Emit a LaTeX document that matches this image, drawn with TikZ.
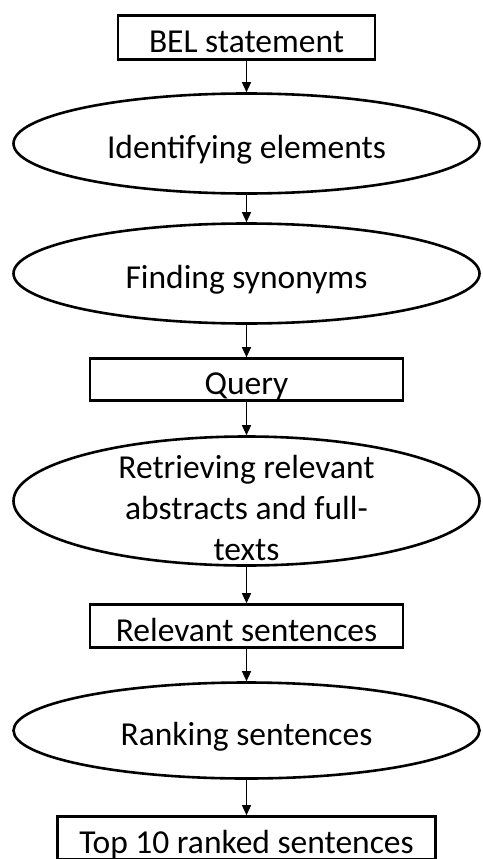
\documentclass[tikz,border=0pt]{standalone}
\usepackage{fontspec}
\setmainfont{Carlito}
\usetikzlibrary{arrows.meta,shapes.geometric}
\begin{document}
\begin{tikzpicture}[x=1pt,y=-1pt,
  every node/.style={font=\fontsize{33.5}{41}\selectfont},
  stepbox/.style={draw, line width=2.6pt, rectangle, inner sep=0pt,
    minimum height=43pt, text height=30pt, text depth=0pt},
  stage/.style={draw, line width=2.6pt, ellipse, inner sep=0pt,
    minimum width=466pt, minimum height=100pt, text height=30pt, text depth=0pt},
  flow/.style={line width=1.3pt, -{Triangle[width=9pt,length=10pt]}}]
\useasboundingbox (0,0) rectangle (482,859);

% process steps, top to bottom
\node[stepbox, minimum width=257pt, minimum height=44pt] (bel) at (246.5,37.5) {BEL statement};
\node[stage] (ident) at (246.5,143.5) {Identifying elements};
\node[stage] (syn) at (246.5,273.5) {Finding synonyms};
\node[stepbox, minimum width=313pt, minimum height=42pt] (query) at (246.5,379.5) {Query};
\node[stage, minimum height=129pt,
  label={[name=retrtext, align=center, yshift=-7pt]center:Retrieving relevant\\abstracts and full-\\texts}]
  (retr) at (246.5,501) {};
\node[stepbox, minimum width=313pt] (rel) at (246.5,626) {Relevant sentences};
\node[stage, minimum height=96pt] (rank) at (246.5,730.5) {Ranking sentences};
\node[stepbox, minimum width=378pt] (top) at (246.5,838) {Top 10 ranked sentences};

% connectors
\draw[flow] (bel.south) -- (ident.north);
\draw[flow] (ident.south) -- (syn.north);
\draw[flow] (syn.south) -- (query.north);
\draw[flow] (query.south) -- (retr.north);
\draw[flow] (retr.south) -- (rel.north);
\draw[flow] (rel.south) -- (rank.north);
\draw[flow] (rank.south) -- (top.north);
\end{tikzpicture}
\end{document}
